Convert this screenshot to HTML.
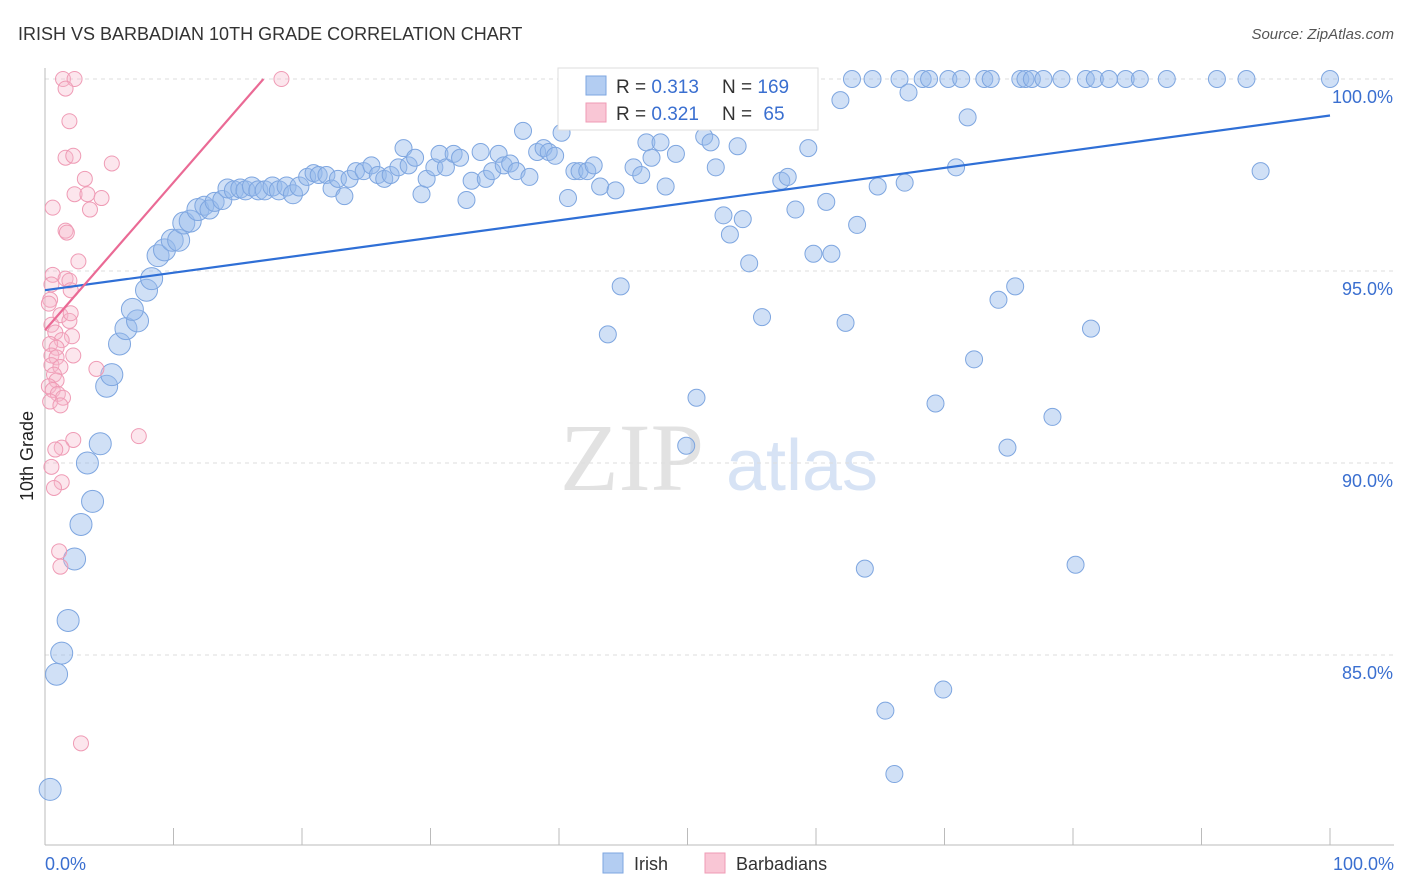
<!DOCTYPE html>
<html><head><meta charset="utf-8">
<style>
body{margin:0;background:#fff;font-family:"Liberation Sans",sans-serif;}
#wrap{position:relative;width:1406px;height:892px;overflow:hidden;}
</style></head>
<body>
<div id="wrap">
<svg id="svg" width="1406" height="892" xmlns="http://www.w3.org/2000/svg">
<text x="18" y="40" font-size="18" fill="#333">IRISH VS BARBADIAN 10TH GRADE CORRELATION CHART</text>
<text x="1394" y="39" font-size="15" fill="#555" font-style="italic" text-anchor="end">Source: ZipAtlas.com</text>
<text x="33" y="456" font-size="18" fill="#222" transform="rotate(-90 33 456)" text-anchor="middle">10th Grade</text>
<g>
<text x="632" y="490" font-size="96" fill="#e2e2e2" font-family="Liberation Serif,serif" text-anchor="middle">ZIP</text>
<text x="802" y="490" font-size="72" fill="#d7e3f5" text-anchor="middle">atlas</text>
</g>
<g id="grid"></g><g id="pts"></g><g id="lines"></g>
<g>
<rect x="558" y="68" width="260" height="62" fill="#fff" stroke="#ddd"/>
<rect x="586" y="76" width="20" height="19" fill="#b3cdf2" stroke="#7ea6e0"/>
<text x="616" y="93" font-size="19" fill="#333">R = <tspan fill="#3a6fd0">0.313</tspan></text>
<text x="722" y="93" font-size="19" fill="#333">N = <tspan fill="#3a6fd0">169</tspan></text>
<rect x="586" y="103" width="20" height="19" fill="#f9c6d5" stroke="#ef9bb5"/>
<text x="616" y="120" font-size="19" fill="#333">R = <tspan fill="#3a6fd0">0.321</tspan></text>
<text x="722" y="120" font-size="19" fill="#333">N = <tspan fill="#3a6fd0" dx="6">65</tspan></text>
</g>
<g>
<rect x="603" y="853" width="20" height="20" fill="#b3cdf2" stroke="#7ea6e0"/>
<text x="634" y="870" font-size="18" fill="#333">Irish</text>
<rect x="705" y="853" width="20" height="20" fill="#f9c6d5" stroke="#ef9bb5"/>
<text x="736" y="870" font-size="18" fill="#333">Barbadians</text>
</g>
</svg>
</div>
<script>
const yTicks=[100,95,90,85];
const yTickLabels=["100.0%","95.0%","90.0%","85.0%"];
const xTicks=[0,10,20,30,40,50,60,70,80,90,100];
const xTickLabels=["0.0%","100.0%"];
const irishX=[0.4,0.9,1.3,1.8,2.3,2.8,3.3,3.7,4.3,4.8,5.2,5.8,6.3,7.2,6.8,7.9,8.3,8.8,9.3,9.9,10.4,10.8,11.3,11.9,12.4,12.8,13.2,13.8,14.2,14.7,15.2,15.6,16.1,16.6,17.1,17.7,18.2,18.8,19.3,19.8,20.4,20.9,21.3,21.9,22.3,22.8,23.3,23.7,24.2,24.8,25.4,25.9,26.4,26.9,27.5,27.9,28.3,28.8,29.3,29.7,30.3,30.7,31.2,31.8,32.3,32.8,33.2,33.9,34.3,34.8,35.3,35.7,36.2,36.7,37.2,37.7,38.3,38.8,39.2,39.7,40.2,40.7,41.2,41.6,42.2,42.7,43.2,43.8,44.4,44.8,45.4,45.8,46.4,46.8,47.2,47.9,48.3,49.1,49.9,50.7,50.9,51.3,51.8,52.2,52.8,53.3,53.9,54.3,54.8,55.8,56.4,57.3,57.8,58.4,58.8,59.4,59.8,60.8,61.2,61.9,62.3,62.8,63.2,63.8,64.4,64.8,65.4,66.1,66.5,66.9,67.2,68.3,68.8,69.3,69.9,70.3,70.9,71.3,71.8,72.3,73.1,73.6,74.2,74.9,75.5,75.9,76.3,76.8,77.7,78.4,79.1,80.2,81.0,81.4,81.7,82.8,84.1,85.2,87.3,91.2,93.5,94.6,100];
const irishY=[81.5,84.5,85.05,85.9,87.5,88.4,90.0,89.0,90.5,92.0,92.3,93.1,93.5,93.7,94.0,94.5,94.8,95.4,95.55,95.8,95.8,96.25,96.3,96.6,96.7,96.6,96.8,96.85,97.15,97.1,97.15,97.1,97.2,97.1,97.1,97.2,97.1,97.2,97.0,97.2,97.45,97.55,97.5,97.5,97.15,97.4,96.95,97.4,97.6,97.6,97.75,97.5,97.4,97.5,97.7,98.2,97.75,97.95,97.0,97.4,97.7,98.05,97.7,98.05,97.95,96.85,97.35,98.1,97.4,97.6,98.05,97.75,97.8,97.6,98.65,97.45,98.1,98.2,98.1,98.0,98.6,96.9,97.6,97.6,97.6,97.75,97.2,93.35,97.1,94.6,99.0,97.7,97.5,98.35,97.95,98.35,97.2,98.05,90.45,91.7,99.2,98.5,98.35,97.7,96.45,95.95,98.25,96.35,95.2,93.8,99.0,97.35,97.45,96.6,100,98.2,95.45,96.8,95.45,99.45,93.65,100,96.2,87.25,100,97.2,83.55,81.9,100,97.3,99.65,100,100,91.55,84.1,100,97.7,100,99.0,92.7,100,100,94.25,90.4,94.6,100,100,100,100,91.2,100,87.35,100,93.5,100,100,100,100,100,100,100,97.6,100];
const barbX=[1.4,2.3,1.6,1.9,1.6,2.2,5.2,3.1,2.3,3.3,4.4,0.6,3.5,1.6,1.7,2.6,0.6,1.6,1.9,0.5,2.0,0.4,0.3,1.2,1.9,2.0,0.5,0.8,2.1,1.3,0.4,0.9,0.5,2.2,0.9,0.5,1.2,4.0,0.7,0.9,0.3,0.6,1.0,1.4,0.4,1.2,7.3,2.2,1.3,0.8,0.5,1.3,0.7,1.1,1.2,2.8,18.4];
const barbY=[100,100,99.75,98.9,97.95,98.0,97.8,97.4,97.0,97.0,96.9,96.65,96.6,96.05,96.0,95.25,94.9,94.8,94.75,94.65,94.5,94.25,94.15,93.85,93.7,93.9,93.6,93.4,93.3,93.2,93.1,93.0,92.8,92.8,92.75,92.55,92.5,92.45,92.3,92.15,92.0,91.9,91.8,91.7,91.6,91.5,90.7,90.6,90.4,90.35,89.9,89.5,89.35,87.7,87.3,82.7,100];
const irishLine=[[0,94.5],[100,99.05]];
const barbLine=[[0,93.46],[17,100]];
const NS="http://www.w3.org/2000/svg";
const X0=45,X1=1330,Y100=79,PPY=38.4;
function sx(v){return X0+(X1-X0)*v/100;}
function sy(v){return Y100+(100-v)*PPY;}
function mk(tag,attrs,parent){const e=document.createElementNS(NS,tag);for(const k in attrs)e.setAttribute(k,attrs[k]);document.getElementById(parent).appendChild(e);return e;}
yTicks.forEach((t,i)=>{
 const l=mk('line',{x1:X0,x2:1394,y1:sy(t),y2:sy(t),stroke:'#ddd','stroke-dasharray':'4,4'},'grid');
 
 
 const tx=mk('text',{x:1393,y:sy(t)+24,'font-size':18,fill:'#3a6fd0','text-anchor':'end'},'grid');
 tx.textContent=yTickLabels[i];
 
 
});
const ax=mk('line',{x1:X0,x2:X0,y1:68,y2:845,stroke:'#bbb'},'grid');


const bx=mk('line',{x1:X0,x2:1394,y1:845,y2:845,stroke:'#bbb'},'grid');


xTicks.forEach(t=>{
 const l=mk('line',{x1:sx(t),x2:sx(t),y1:828,y2:845,stroke:'#bbb'},'grid');
 
 
});
const xl0=mk('text',{x:45,y:870,'font-size':18,fill:'#3a6fd0'},'grid');xl0.textContent=xTickLabels[0];


const xl1=mk('text',{x:1394,y:870,'font-size':18,fill:'#3a6fd0','text-anchor':'end'},'grid');xl1.textContent=xTickLabels[1];


irishX.forEach((x,i)=>{
 const r=x<12?11:(x<20?9.5:8.5);
 const c=mk('circle',{cx:sx(x),cy:sy(irishY[i]),r:r,fill:'rgba(150,186,236,0.45)',stroke:'#7ea6e0','stroke-width':1},'pts');
 
 
});
barbX.forEach((x,i)=>{
 const c=mk('circle',{cx:sx(x),cy:sy(barbY[i]),r:7.5,fill:'rgba(247,182,202,0.35)',stroke:'#ef9bb5','stroke-width':1},'pts');
 
 
});
const l1=mk('line',{x1:sx(irishLine[0][0]),y1:sy(irishLine[0][1]),x2:sx(irishLine[1][0]),y2:sy(irishLine[1][1]),stroke:'#2f6fd6','stroke-width':2.2},'lines');


const l2=mk('line',{x1:sx(barbLine[0][0]),y1:sy(barbLine[0][1]),x2:sx(barbLine[1][0]),y2:sy(barbLine[1][1]),stroke:'#ea6a95','stroke-width':2.2},'lines');


</script>
</body></html>
